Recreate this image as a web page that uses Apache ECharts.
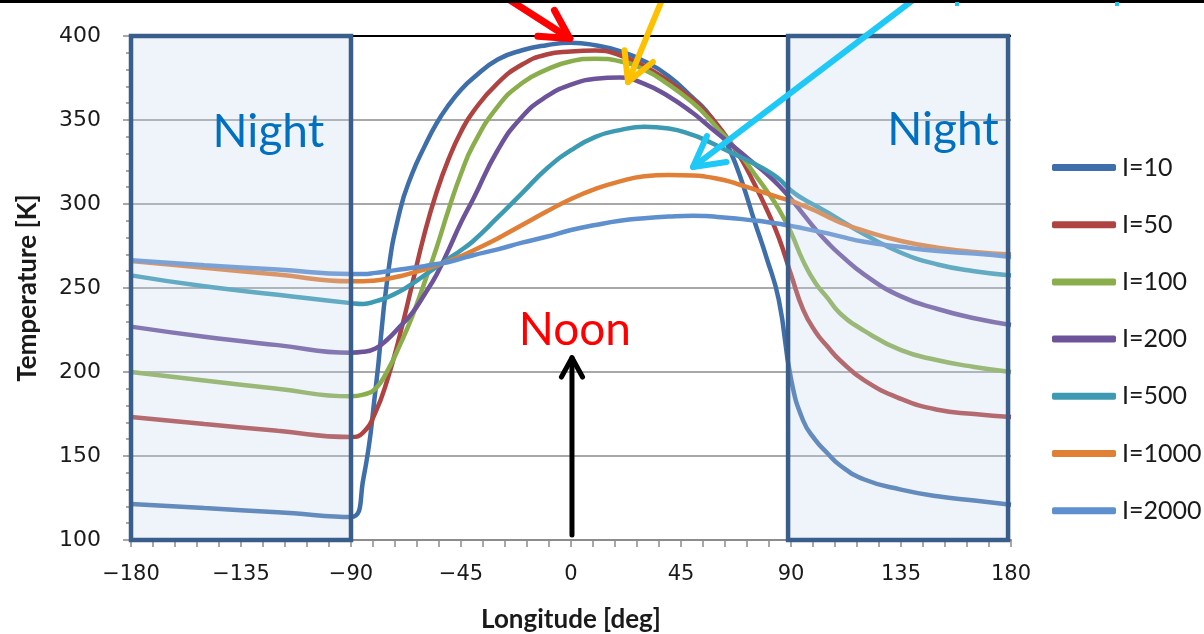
<!DOCTYPE html>
<html>
<head>
<meta charset="utf-8">
<script src="https://cdn.jsdelivr.net/npm/echarts@6/dist/echarts.min.js"></script>
<style>
  html, body { margin: 0; padding: 0; background: #ffffff; }
  #chart { width: 1204px; height: 634px; }
</style>
</head>
<body>
<div id="chart"></div>
<script>
// Surface temperature vs. longitude for several thermal inertia values
const longitudes = [-180, -150, -120, -90, -85, -80, -75, -70, -65, -60, -55, -50, -45, -40, -30, -20, -10, 0,
  10, 20, 30, 40, 50, 55, 60, 65, 70, 75, 80, 85, 90, 95, 100, 105, 110, 120, 135, 150, 165, 180];

const seriesNames = ['I=10', 'I=50', 'I=100', 'I=200', 'I=500', 'I=1000', 'I=2000'];

const tempI10 = [121.5, 119, 116.5, 113.7, 136, 189, 257, 296, 318, 334, 348, 359, 368, 375, 386, 391.5, 394.5, 396,
  394.5, 391, 385, 376, 363, 356, 346, 332, 313, 290, 268, 243, 196, 171, 159.5, 151.5, 144.5, 136, 130, 126, 123.5, 121];
const tempI50 = [173.2, 169, 165, 161.3, 164, 176, 196, 222, 252, 282, 307, 327, 343, 355, 372, 383, 389, 390.8,
  391.4, 388.5, 382, 373, 362, 355, 347, 337, 326, 312, 297, 280, 258, 237, 224, 215, 207, 195, 184, 177.5, 175, 173.2];
const tempI100 = [200, 195, 190, 185.5, 186.5, 190, 201, 216, 233, 253, 274, 297, 318, 335, 358, 372, 380, 385,
  386.5, 385, 380, 371, 360, 353, 345, 337, 328, 318, 308, 297, 283, 266, 253, 244, 235, 224.5, 213, 207, 203, 200];
const tempI200 = [227, 221, 216, 211.5, 212, 214, 219.5, 227, 235, 246, 258, 273, 289, 303, 332, 352, 364, 371,
  374.5, 375.3, 371.5, 364, 354, 348, 342, 336, 330, 324, 318, 311, 303, 294, 285, 277, 270, 258, 245, 237.5, 232, 228];
const tempI500 = [257.5, 251, 246, 241, 240.5, 242, 244.5, 248, 252.5, 257.5, 262.5, 267.5, 272.5, 278, 292, 306.5, 321, 332,
  340, 344, 346, 345, 341, 338, 334.5, 331, 327.5, 324, 320, 315, 308, 303, 299, 295, 290.5, 282, 271, 264, 260, 257.5];
const tempI1000 = [266, 262, 258, 254, 254, 254.5, 255.5, 257, 259, 261, 263.5, 266, 269, 272.3, 279.5, 287.5, 295.5, 303,
  309, 313.5, 316.5, 317.3, 317, 316.3, 315, 313.3, 311, 308.7, 306.3, 304, 301.8, 299, 296, 292.5, 289, 284, 278, 274, 271.5, 270];
const tempI2000 = [266.5, 263.5, 261, 258.3, 258.3, 259, 260, 261, 262, 263, 264.3, 265.5, 267.5, 269.5, 273, 277, 280.5, 284.5,
  287.5, 290, 291.5, 292.5, 293, 292.8, 292.3, 291.7, 291, 290.2, 289.3, 288.2, 287, 285.5, 284, 282.5, 280.7, 277.5, 274.5, 272, 270.5, 268.5];

const seriesTemps = [tempI10, tempI50, tempI100, tempI200, tempI500, tempI1000, tempI2000];
const seriesColors = ['#3f6fab', '#ae4341', '#8aae4c', '#6d549a', '#3c9bb3', '#e07f35', '#5e8fcf'];

// Night sides of the planet, in longitude
const nightSpans = [[-180, -90], [88.8, 178.8]];

// Axis extents
const lonMin = -180, lonMax = 180, lonStep = 45;
const tempMin = 100, tempMax = 400, tempStep = 50;

const chart = echarts.init(document.getElementById('chart'), null, { renderer: 'canvas' });

const lineSeries = seriesNames.map((name, i) => ({
  name: name,
  type: 'line',
  data: longitudes.map((lon, k) => [lon, seriesTemps[i][k]]),
  smooth: 0.5,
  symbol: 'none',
  showSymbol: false,
  z: 2,
  lineStyle: { width: 4.5, color: seriesColors[i] },
  itemStyle: { color: seriesColors[i] }
}));

// Overlay series holding the night shading and the top boundary line
const overlaySeries = {
  name: 'night',
  type: 'line',
  data: [],
  z: 5,
  silent: true,
  markArea: {
    silent: true,
    z: 10,
    itemStyle: {
      color: 'rgba(198,212,236,0.28)',
      borderColor: '#3a5e8c',
      borderWidth: 4.5
    },
    label: { show: false },
    data: nightSpans.map(s => [{ xAxis: s[0], yAxis: tempMin }, { xAxis: s[1], yAxis: tempMax }])
  },
  markLine: {
    silent: true,
    symbol: 'none',
    label: { show: false },
    lineStyle: { color: '#000000', width: 2, type: 'solid' },
    data: [{ yAxis: tempMax }]
  }
};

const tickFont = { fontFamily: 'DejaVu Sans', fontSize: 21, color: '#1a1a1a' };

chart.setOption({
  animation: false,
  backgroundColor: '#ffffff',
  grid: { left: 131, right: 193, top: 36, bottom: 94, containLabel: false, outerBoundsMode: 'none' },
  legend: {
    data: seriesNames,
    orient: 'vertical',
    left: 1047,
    top: 150,
    itemWidth: 64,
    itemHeight: 7,
    itemGap: 32.2,
    icon: 'roundRect',
    textStyle: { fontFamily: 'Lato', fontSize: 25, color: '#1a1a1a', padding: [0, 0, 0, 1] },
    selectedMode: false
  },
  xAxis: {
    type: 'value',
    min: lonMin,
    max: lonMax,
    interval: lonStep,
    name: 'Longitude [deg]',
    nameLocation: 'middle',
    nameGap: 67,
    nameTextStyle: { fontFamily: 'Lato', fontWeight: 'bold', fontSize: 26, color: '#1a1a1a' },
    axisLine: { show: true, onZero: false, lineStyle: { color: '#8c8c8c', width: 2 } },
    axisTick: { show: true, inside: false, length: 7, lineStyle: { color: '#8c8c8c', width: 1.5 } },
    minorTick: { show: true, splitNumber: 5, length: 7, lineStyle: { color: '#8c8c8c', width: 1.5 } },
    axisLabel: Object.assign({ margin: 24, formatter: v => String(v).replace('-', '\u2212') }, tickFont),
    splitLine: { show: false }
  },
  yAxis: {
    type: 'value',
    min: tempMin,
    max: tempMax,
    interval: tempStep,
    name: 'Temperature [K]',
    nameLocation: 'middle',
    nameGap: 90,
    nameTextStyle: { fontFamily: 'Lato', fontWeight: 'bold', fontSize: 26, color: '#1a1a1a' },
    axisLine: { show: true, onZero: false, lineStyle: { color: '#8c8c8c', width: 2 } },
    axisTick: { show: true, inside: false, length: 8, lineStyle: { color: '#8c8c8c', width: 1.5 } },
    minorTick: { show: true, splitNumber: 5, length: 5, lineStyle: { color: '#8c8c8c', width: 1.5 } },
    axisLabel: Object.assign({ margin: 30 }, tickFont, { fontSize: 22 }),
    splitLine: { show: true, lineStyle: { color: '#a8a8a8', width: 2 } }
  },
  series: lineSeries.concat([overlaySeries])
});

// Annotations placed in data coordinates
const toPx = p => chart.convertToPixel({ gridIndex: 0 }, p);

function arrow(from, to, color, width, head) {
  const p0 = toPx(from), p1 = toPx(to);
  const ang = Math.atan2(p0[1] - p1[1], p0[0] - p1[0]);
  const spread = 0.5;
  const a1 = ang + spread, a2 = ang - spread;
  return [
    { type: 'line', z: 50, shape: { x1: p0[0], y1: p0[1], x2: p1[0], y2: p1[1] },
      style: { stroke: color, lineWidth: width, lineCap: 'round' } },
    { type: 'polyline', z: 50,
      shape: { points: [[p1[0] + head * Math.cos(a1), p1[1] + head * Math.sin(a1)], [p1[0], p1[1]],
                        [p1[0] + head * Math.cos(a2), p1[1] + head * Math.sin(a2)]] },
      style: { stroke: color, lineWidth: width, lineCap: 'round', lineJoin: 'round', fill: null } }
  ];
}

function label(text, at, color) {
  const p = toPx(at);
  return { type: 'text', z: 50, x: p[0], y: p[1],
    style: { text: text, fill: color, font: '46px Lato', textAlign: 'center', textVerticalAlign: 'middle' } };
}

const graphics = []
  .concat(arrow([-25, 421.4], [-0.5, 398.5], '#ff0000', 7, 32))
  .concat(arrow([37.2, 421.4], [23.3, 372.6], '#ffc000', 6, 32))
  .concat(arrow([139.9, 421.4], [49.9, 322], '#1ec8f7', 6, 34))
  .concat(arrow([0.4, 103], [0.4, 208.5], '#000000', 5, 22))
  .concat([
    label('Night', [-123.8, 343], '#0070c0'),
    label('Night', [152.2, 344], '#0070c0'),
    label('Noon', [1.6, 225], '#ff0000'),
    { type: 'rect', z: 60, shape: { x: 0, y: 0, width: 1204, height: 3 }, style: { fill: '#000000' } },
    { type: 'rect', z: 60, shape: { x: 955, y: 2, width: 4, height: 4 }, style: { fill: '#1ec8f7' } },
    { type: 'rect', z: 60, shape: { x: 1115, y: 2, width: 4, height: 4 }, style: { fill: '#1ec8f7' } }
  ]);

chart.setOption({ graphic: graphics });
</script>
</body>
</html>
